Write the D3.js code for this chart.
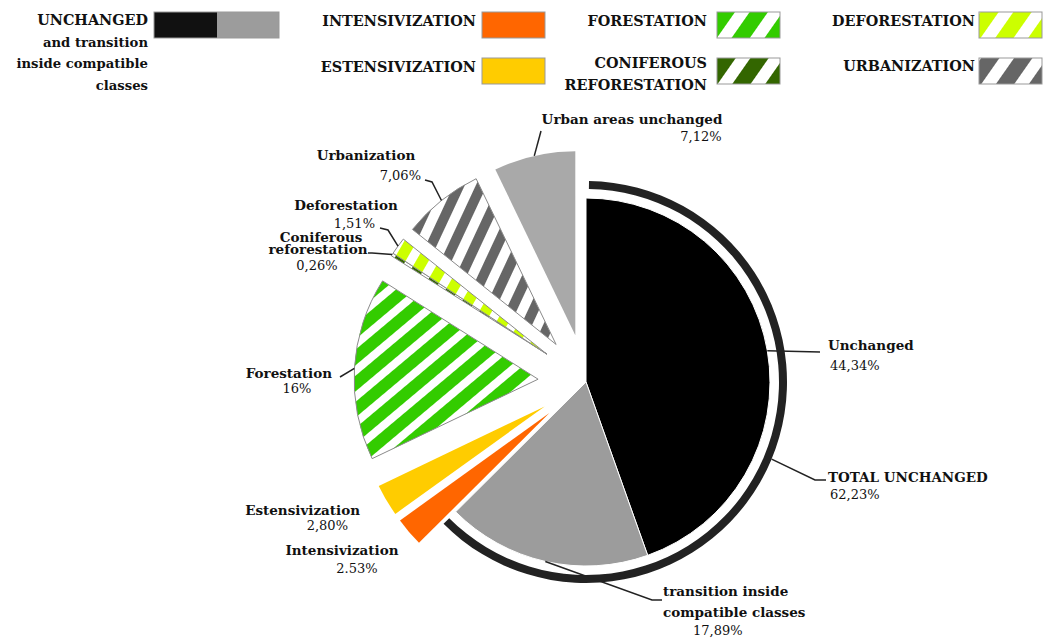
<!DOCTYPE html>
<html>
<head>
<meta charset="utf-8">
<script src="https://cdnjs.cloudflare.com/ajax/libs/d3/7.8.5/d3.min.js"></script>
<style>
  body { margin: 0; background: #fff; }
  text { font-family: "DejaVu Serif", "Liberation Serif", serif; fill: #111; }
  .name { font-weight: bold; font-size: 13.5px; }
  .pct { font-size: 13px; }
  .leg { font-weight: bold; font-size: 14.4px; }
  .leg.small { font-size: 13.2px; }
</style>
</head>
<body>
<div id="chart"></div>
<script>
// data
var categories = ["Unchanged", "transition inside compatible classes", "Intensivization",
  "Estensivization", "Forestation", "Coniferous reforestation", "Deforestation",
  "Urbanization", "Urban areas unchanged"];
var values = [44.34, 17.89, 2.53, 2.80, 16, 0.26, 1.51, 7.06, 7.12];
var pctLabels = ["44,34%", "17,89%", "2.53%", "2,80%", "16%", "0,26%", "1,51%", "7,06%", "7,12%"];
var exploded = [false, false, true, true, true, true, true, true, true];
// coniferous and deforestation are pulled out together
var explodeGroup = [0, 1, 2, 3, 4, 5, 5, 7, 8];
var totalLabel = ["TOTAL UNCHANGED", "62,23%"];

var legendNames = ["UNCHANGED", "INTENSIVIZATION", "ESTENSIVIZATION", "FORESTATION",
  "CONIFEROUS REFORESTATION", "DEFORESTATION", "URBANIZATION"];

var svgWidth = 1052;
var svgHeight = 640;

var cx = 586, cy = 382;
var radius = 184;
var explode = 48;

// fills: solid colours or stripe patterns
var fills = {
  "Unchanged": { color: "#000000" },
  "transition inside compatible classes": { color: "#9c9c9c" },
  "Intensivization": { color: "#ff6600" },
  "Estensivization": { color: "#ffcc00" },
  "Forestation": { color: "#33cc00", stripe: true, period: 20, band: 12, angle: 50 },
  "Coniferous reforestation": { color: "#336600", stripe: true, period: 20, band: 11, angle: 30 },
  "Deforestation": { color: "#ccff00", stripe: true, period: 20, band: 11, angle: 30 },
  "Urbanization": { color: "#666666", stripe: true, period: 20, band: 10, angle: 25 },
  "Urban areas unchanged": { color: "#a9a9a9" }
};

var svg = d3.select("#chart")
  .append("svg")
  .attr("width", svgWidth)
  .attr("height", svgHeight);

var defs = svg.append("defs");

function makePattern(id, color, period, band, angle) {
  var p = defs.append("pattern")
    .attr("id", id)
    .attr("patternUnits", "userSpaceOnUse")
    .attr("width", period)
    .attr("height", period)
    .attr("patternTransform", `rotate(${angle})`);
  p.append("rect").attr("width", period).attr("height", period).attr("fill", "#fff");
  p.append("rect").attr("width", band).attr("height", period).attr("fill", color);
  return `url(#${id})`;
}

function fillFor(name, i) {
  var f = fills[name];
  if (!f.stripe) return f.color;
  return makePattern("pat" + i, f.color, f.period, f.band, f.angle);
}

// ---------- pie ----------
var pie = d3.pie().sort(null).value(d => d.value);
var arcs = pie(categories.map((c, i) => ({ name: c, value: values[i], pct: pctLabels[i], ex: exploded[i] })));

var arc = d3.arc().innerRadius(0).outerRadius(radius);

function offset(d) {
  if (!d.data.ex) return [0, 0];
  var i = arcs.indexOf(d);
  var members = arcs.filter((e, j) => explodeGroup[j] === explodeGroup[i]);
  var a = (d3.min(members, e => e.startAngle) + d3.max(members, e => e.endAngle)) / 2;
  return [explode * Math.sin(a), -explode * Math.cos(a)];
}

var pieG = svg.append("g").attr("transform", `translate(${cx}, ${cy})`);

pieG.selectAll("path.slice")
  .data(arcs)
  .enter()
  .append("path")
  .attr("class", "slice")
  .attr("transform", d => `translate(${offset(d)})`)
  .attr("d", arc)
  .attr("fill", (d, i) => fillFor(d.data.name, i))
  .attr("stroke", d => fills[d.data.name].stripe ? "#8a8a8a" : "#fff")
  .attr("stroke-width", d => fills[d.data.name].stripe ? 1 : (d.data.ex ? 0 : 1));

// ring around the total unchanged part
var ringArc = d3.arc()
  .innerRadius(193)
  .outerRadius(201)
  .startAngle(arcs[0].startAngle + 0.015)
  .endAngle(arcs[1].endAngle);

pieG.append("path")
  .attr("d", ringArc())
  .attr("fill", "#222");

// point on the outer edge at the middle of a slice
function edgePoint(d, r) {
  var a = (d.startAngle + d.endAngle) / 2;
  var o = offset(d);
  return [cx + o[0] + r * Math.sin(a), cy + o[1] - r * Math.cos(a)];
}

// label layout: text lines and leader end points
var labelLayout = [
  { lines: [["Unchanged", 828, 350, "start"]], pct: [830, 370, "start"], leader: [[820, 352]] },
  { lines: [["transition inside", 663, 596, "start"], ["compatible classes", 663, 617, "start"]],
    pct: [693, 635, "start"], leader: [[652, 600], [662, 600]] },
  { lines: [["Intensivization", 342, 555, "middle"]], pct: [357, 573, "middle"], leader: null },
  { lines: [["Estensivization", 360, 515, "end"]], pct: [348, 530, "end"], leader: null },
  { lines: [["Forestation", 332, 378, "end"]], pct: [297, 393, "middle"], leader: [[340, 377]] },
  { lines: [["Coniferous", 321, 242, "middle"], ["reforestation", 318, 254, "middle"]],
    pct: [317, 270, "middle"], leader: [[372, 253], [368, 253]] },
  { lines: [["Deforestation", 346, 210, "middle"]], pct: [375, 228, "end"], leader: [[388, 230], [380, 228]] },
  { lines: [["Urbanization", 366, 160, "middle"]], pct: [421, 180, "end"], leader: [[432, 182], [425, 180]] },
  { lines: [["Urban areas unchanged", 632, 124, "middle"]], pct: [701, 141, "middle"], leader: [[541, 131]] }
];

var line = d3.line();

arcs.forEach(function(d, i) {
  var lay = labelLayout[i];
  if (lay.leader) {
    var pts = [edgePoint(d, radius)].concat(lay.leader);
    svg.append("path")
      .attr("d", line(pts))
      .attr("fill", "none")
      .attr("stroke", "#222")
      .attr("stroke-width", 1.5);
  }
  lay.lines.forEach(function(l) {
    svg.append("text").attr("class", "name")
      .attr("x", l[1]).attr("y", l[2]).attr("text-anchor", l[3]).text(l[0]);
  });
  svg.append("text").attr("class", "pct")
    .attr("x", lay.pct[0]).attr("y", lay.pct[1]).attr("text-anchor", lay.pct[2])
    .text(d.data.pct);
});

// total unchanged leader, from the ring
var ringMid = (arcs[0].startAngle + arcs[1].endAngle) / 2;
svg.append("path")
  .attr("d", line([[cx + 201 * Math.sin(ringMid), cy - 201 * Math.cos(ringMid)], [815, 480], [826, 480]]))
  .attr("fill", "none")
  .attr("stroke", "#222")
  .attr("stroke-width", 1.5);
svg.append("text").attr("class", "name").attr("x", 828).attr("y", 482).text(totalLabel[0]);
svg.append("text").attr("class", "pct").attr("x", 830).attr("y", 499).text(totalLabel[1]);

// ---------- legend ----------
var legendLayout = [
  { lines: ["UNCHANGED", "and transition", "inside compatible", "classes"], x: 148, y: 25, sx: 154, sy: 12 },
  { lines: ["INTENSIVIZATION"], x: 476, y: 26, sx: 482, sy: 12 },
  { lines: ["ESTENSIVIZATION"], x: 476, y: 72, sx: 482, sy: 58 },
  { lines: ["FORESTATION"], x: 707, y: 26, sx: 717, sy: 12 },
  { lines: ["CONIFEROUS", "REFORESTATION"], x: 707, y: 68, sx: 717, sy: 58 },
  { lines: ["DEFORESTATION"], x: 975, y: 26, sx: 979, sy: 12 },
  { lines: ["URBANIZATION"], x: 975, y: 71, sx: 979, sy: 58 }
];
var legendFills = ["Unchanged", "Intensivization", "Estensivization", "Forestation",
  "Coniferous reforestation", "Deforestation", "Urbanization"];

var legend = svg.append("g");
legendLayout.forEach(function(l, i) {
  l.lines.forEach(function(t, j) {
    legend.append("text").attr("class", t === t.toUpperCase() ? "leg" : "leg small")
      .attr("x", l.x).attr("y", l.y + j * 21.5)
      .attr("text-anchor", "end").text(t);
  });
  var f = fills[legendFills[i]];
  if (i === 0) {
    legend.append("rect").attr("x", l.sx).attr("y", l.sy).attr("width", 63).attr("height", 26)
      .attr("fill", "#111");
    legend.append("rect").attr("x", l.sx + 63).attr("y", l.sy).attr("width", 62).attr("height", 26)
      .attr("fill", fills["transition inside compatible classes"].color);
    legend.append("rect").attr("x", l.sx).attr("y", l.sy).attr("width", 125).attr("height", 26)
      .attr("fill", "none").attr("stroke", "#999");
  } else {
    var fill = f.stripe ? makePattern("leg" + i, f.color, 27, 15, 35) : f.color;
    legend.append("rect").attr("x", l.sx).attr("y", l.sy).attr("width", 63).attr("height", 26)
      .attr("fill", fill).attr("stroke", "#999");
  }
});
</script>
</body>
</html>
